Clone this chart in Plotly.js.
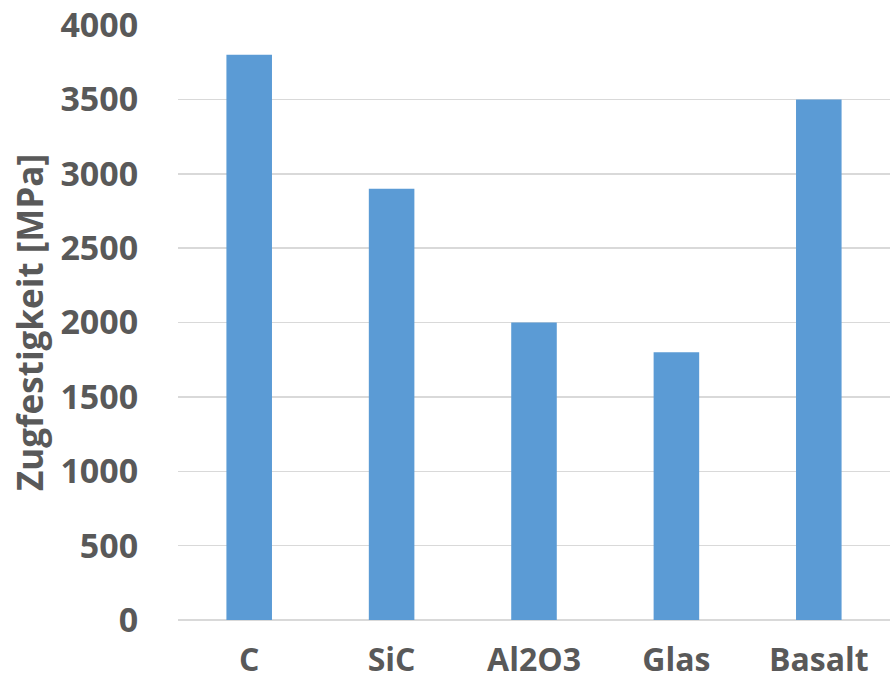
<!DOCTYPE html>
<html>
<head>
<meta charset="utf-8">
<script src="https://cdn.plot.ly/plotly-3.0.1.min.js"></script>
<style>html,body{margin:0;padding:0;background:#fff;}#chart{width:890px;height:683px;}</style>
</head>
<body>
<div id="chart"></div>
<script>
const categories = ["C", "SiC", "Al2O3", "Glas", "Basalt"];
const strength = [3800, 2900, 2000, 1800, 3500];
const yTicks = [0, 500, 1000, 1500, 2000, 2500, 3000, 3500, 4000];

const font = {family: "Open Sans, sans-serif", color: "#595959"};

Plotly.newPlot("chart", [{
  type: "bar",
  x: categories,
  y: strength,
  marker: {color: "#5B9BD5"},
  hoverinfo: "none"
}], {
  width: 890, height: 683,
  margin: {l: 178, r: 0, t: 25, b: 63},
  paper_bgcolor: "#fff", plot_bgcolor: "#fff",
  bargap: 0.68,
  showlegend: false,
  font: font,
  xaxis: {
    type: "category",
    showgrid: false,
    zeroline: false,
    showline: false,
    ticks: "outside", ticklen: 12, tickcolor: "rgba(0,0,0,0)",
    tickfont: {family: "Open Sans, sans-serif", size: 32, color: "#595959", weight: "bold"}
  },
  yaxis: {
    range: [0, 4000],
    tickvals: yTicks,
    showgrid: true, gridcolor: "#D9D9D9", gridwidth: 1.5,
    zeroline: true, zerolinecolor: "#D9D9D9", zerolinewidth: 1.5,
    showline: false,
    ticks: "outside", ticklen: 32, tickcolor: "rgba(0,0,0,0)",
    tickfont: {family: "Open Sans, sans-serif", size: 34, color: "#595959", weight: "bold"},
    title: {text: "Zugfestigkeit [MPa]", standoff: 6,
      font: {family: "Open Sans, sans-serif", size: 35, color: "#595959", weight: "bold"}}
  }
}, {displayModeBar: false, staticPlot: true});
</script>
</body>
</html>
